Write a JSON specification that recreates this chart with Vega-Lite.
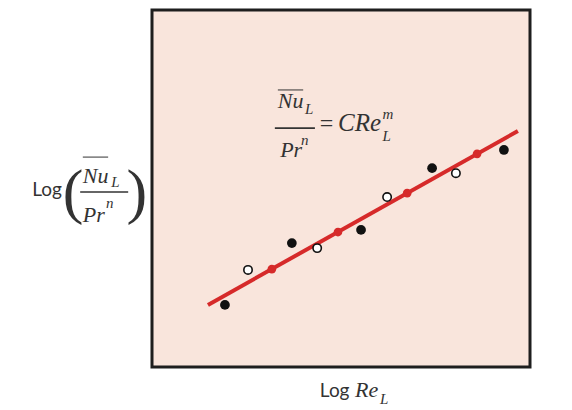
{
  "$schema": "https://vega.github.io/schema/vega-lite/v6.json",
  "width": 378,
  "height": 357,
  "autosize": "none",
  "padding": {"left": 152, "top": 10, "right": 42, "bottom": 43},
  "background": "white",
  "config": {"view": {"fill": "#f9e5dc", "stroke": "#1e1e1e", "strokeWidth": 3}},
  "datasets": {
    "pts": [
      {"series": "fit", "x": 1.48, "y": 1.74},
      {"series": "fit", "x": 9.68, "y": 6.61},
      {"series": "black", "x": 1.93, "y": 1.74},
      {"series": "black", "x": 3.70, "y": 3.47},
      {"series": "black", "x": 5.53, "y": 3.84},
      {"series": "black", "x": 7.41, "y": 5.57},
      {"series": "black", "x": 9.31, "y": 6.08},
      {"series": "white", "x": 2.54, "y": 2.72},
      {"series": "white", "x": 4.37, "y": 3.33},
      {"series": "white", "x": 6.22, "y": 4.76},
      {"series": "white", "x": 8.04, "y": 5.43},
      {"series": "red", "x": 3.17, "y": 2.74},
      {"series": "red", "x": 4.92, "y": 3.78},
      {"series": "red", "x": 6.75, "y": 4.87},
      {"series": "red", "x": 8.60, "y": 5.97}
    ],
    "labels": [
      {"kind": "big", "text": "Nu", "x": 3.33, "y": 7.25},
      {"kind": "sub", "text": "L", "x": 4.05, "y": 7.09},
      {"kind": "big", "text": "Pr", "x": 3.39, "y": 5.88},
      {"kind": "sub", "text": "n", "x": 3.94, "y": 6.22},
      {"kind": "eq", "text": "=", "x": 4.44, "y": 6.61},
      {"kind": "huge", "text": "CRe", "x": 4.92, "y": 6.61},
      {"kind": "sub", "text": "m", "x": 6.1, "y": 6.94},
      {"kind": "sub", "text": "L", "x": 6.1, "y": 6.33},
      {"kind": "sans", "text": "Log", "x": -3.17, "y": 4.79},
      {"kind": "paren", "text": "(", "x": -2.09, "y": 4.87},
      {"kind": "paren", "text": ")", "x": -0.40, "y": 4.87},
      {"kind": "big", "text": "Nu", "x": -1.83, "y": 5.15},
      {"kind": "sub", "text": "L", "x": -1.08, "y": 5.04},
      {"kind": "big", "text": "Pr", "x": -1.83, "y": 4.06},
      {"kind": "sub", "text": "n", "x": -1.22, "y": 4.45},
      {"kind": "sans", "text": "Log", "x": 4.44, "y": -0.84},
      {"kind": "big", "text": "Re", "x": 5.37, "y": -0.84},
      {"kind": "sub", "text": "L", "x": 6.03, "y": -1.04}
    ],
    "bars": [
      {"x": 3.33, "x2": 4.0, "y": 7.76, "w": "thin"},
      {"x": 3.25, "x2": 4.31, "y": 6.69, "w": "thick"},
      {"x": -1.83, "x2": -1.16, "y": 5.88, "w": "thin"},
      {"x": -1.90, "x2": -0.63, "y": 4.90, "w": "thick"}
    ]
  },
  "encoding": {
    "x": {"field": "x", "type": "quantitative", "scale": {"domain": [0, 10], "nice": false, "zero": false}, "axis": null},
    "y": {"field": "y", "type": "quantitative", "scale": {"domain": [0, 10], "nice": false, "zero": false}, "axis": null}
  },
  "layer": [
    {
      "data": {"name": "pts"},
      "transform": [{"filter": "datum.series == 'fit'"}],
      "mark": {"type": "line", "color": "#d62a2a", "strokeWidth": 4}
    },
    {
      "data": {"name": "pts"},
      "transform": [{"filter": "datum.series == 'red'"}],
      "mark": {"type": "point", "shape": "circle", "filled": true, "color": "#d62a2a", "size": 75, "opacity": 1}
    },
    {
      "data": {"name": "pts"},
      "transform": [{"filter": "datum.series == 'black'"}],
      "mark": {"type": "point", "shape": "circle", "filled": true, "color": "#111111", "size": 95, "opacity": 1}
    },
    {
      "data": {"name": "pts"},
      "transform": [{"filter": "datum.series == 'white'"}],
      "mark": {"type": "point", "shape": "circle", "filled": true, "fill": "white", "stroke": "#111111", "strokeWidth": 1.6, "size": 70, "opacity": 1}
    },
    {
      "data": {"name": "labels"},
      "transform": [{"filter": "datum.kind == 'big'"}],
      "mark": {"type": "text", "font": "Liberation Serif", "fontStyle": "italic", "fontSize": 22, "align": "left", "baseline": "alphabetic", "color": "#333333"},
      "encoding": {"text": {"field": "text"}}
    },
    {
      "data": {"name": "labels"},
      "transform": [{"filter": "datum.kind == 'huge'"}],
      "mark": {"type": "text", "font": "Liberation Serif", "fontStyle": "italic", "fontSize": 25, "align": "left", "baseline": "alphabetic", "color": "#333333"},
      "encoding": {"text": {"field": "text"}}
    },
    {
      "data": {"name": "labels"},
      "transform": [{"filter": "datum.kind == 'eq'"}],
      "mark": {"type": "text", "font": "Liberation Serif", "fontSize": 24, "align": "left", "baseline": "alphabetic", "color": "#333333"},
      "encoding": {"text": {"field": "text"}}
    },
    {
      "data": {"name": "labels"},
      "transform": [{"filter": "datum.kind == 'sub'"}],
      "mark": {"type": "text", "font": "Liberation Serif", "fontStyle": "italic", "fontSize": 15, "align": "left", "baseline": "alphabetic", "color": "#333333"},
      "encoding": {"text": {"field": "text"}}
    },
    {
      "data": {"name": "labels"},
      "transform": [{"filter": "datum.kind == 'sans'"}],
      "mark": {"type": "text", "font": "Lato", "fontSize": 19, "align": "left", "baseline": "alphabetic", "color": "#333333"},
      "encoding": {"text": {"field": "text"}}
    },
    {
      "data": {"name": "labels"},
      "transform": [{"filter": "datum.kind == 'paren'"}],
      "mark": {"type": "text", "font": "Liberation Serif", "fontSize": 62, "align": "center", "baseline": "middle", "color": "#333333"},
      "encoding": {"text": {"field": "text"}}
    },
    {
      "data": {"name": "bars"},
      "transform": [{"filter": "datum.w == 'thick'"}],
      "mark": {"type": "rule", "color": "#333333", "strokeWidth": 1.6},
      "encoding": {"x2": {"field": "x2"}}
    },
    {
      "data": {"name": "bars"},
      "transform": [{"filter": "datum.w == 'thin'"}],
      "mark": {"type": "rule", "color": "#333333", "strokeWidth": 1},
      "encoding": {"x2": {"field": "x2"}}
    }
  ]
}
